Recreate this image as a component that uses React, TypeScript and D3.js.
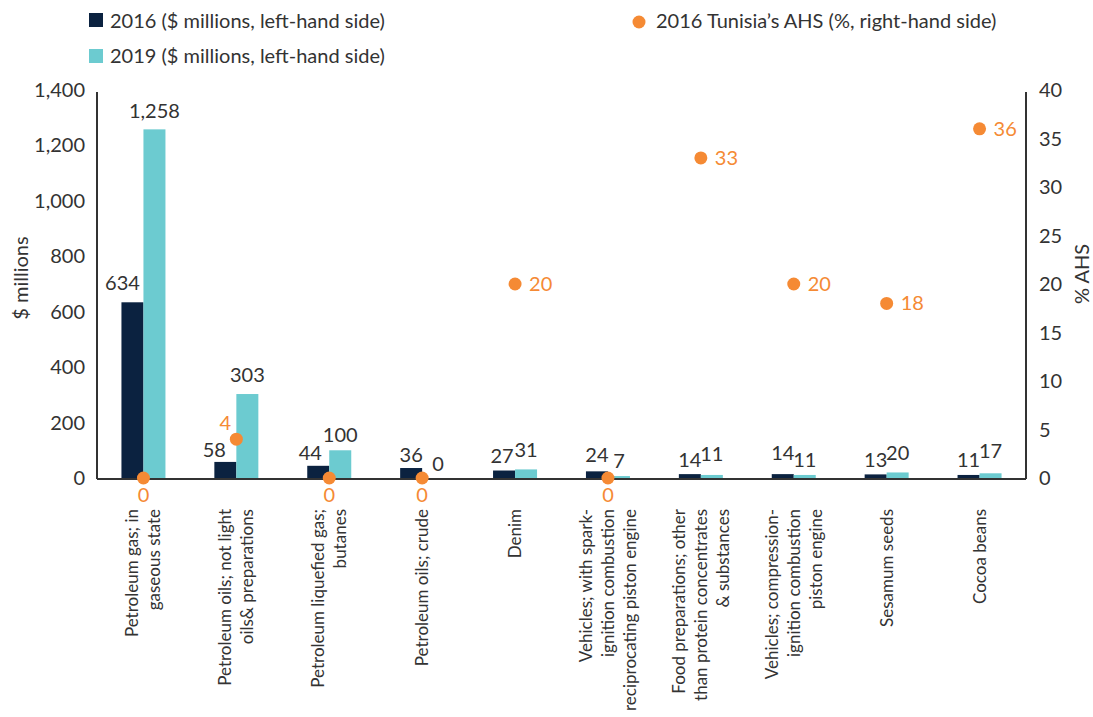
import React from 'react';
import * as d3 from 'd3';

// categories, each split into the lines of its rotated label
const categories = [
  ['Petroleum gas; in', 'gaseous state'],
  ['Petroleum oils; not light', 'oils& preparations'],
  ['Petroleum liquefied gas;', 'butanes'],
  ['Petroleum oils; crude'],
  ['Denim'],
  ['Vehicles; with spark-', 'ignition combustion', 'reciprocating piston engine'],
  ['Food preparations; other', 'than protein concentrates', '& substances'],
  ['Vehicles; compression-', 'ignition combustion', 'piston engine'],
  ['Sesamum seeds'],
  ['Cocoa beans'],
];

const values2016 = [634, 58, 44, 36, 27, 24, 14, 14, 13, 11];
const values2019 = [1258, 303, 100, 0, 31, 7, 11, 11, 20, 17];
const ahs2016 = [0, 4, 0, 0, 20, 0, 33, 20, 18, 36];

const leftTicks = [0, 200, 400, 600, 800, 1000, 1200, 1400];
const rightTicks = [0, 5, 10, 15, 20, 25, 30, 35, 40];

// hand nudges for the value labels, as placed in the original
const nudgeX2016 = [-10, -11, -8, 0, -2, 0, 0, 0, 0, 0];
const nudgeX2019 = [0, 0, 0, 5, 0, 0, 0, 0, 0, 0];
const nudgeY2016 = [-4, 3, 2, 2, 0, -1, 1, -6, 1, 0];
const nudgeY2019 = [-3, -4, 0, 1, -4, 0, -6, 0, -4, -7];
const dotLabelPos = ['below', 'above', 'below', 'below', 'right', 'below', 'right', 'right', 'right', 'right'];

const navy = '#0b2240';
const teal = '#6ccbd0';
const orange = '#f58a34';
const textCol = '#333333';
const font = 'Lato, "Open Sans", sans-serif';
const fs = 20;

export default function App() {
  const w = 1093, h = 717;
  const left = 97, right = 1026, top = 90, bottom = 478;

  const x = d3.scaleBand<number>()
    .domain(d3.range(categories.length))
    .range([left, right]);

  const yL = d3.scaleLinear().domain([0, 1400]).range([bottom, top]);
  const yR = d3.scaleLinear().domain([0, 40]).range([bottom, top]);

  const barW = 22;
  const cx = (i: number) => (x(i) as number) + x.bandwidth() / 2;

  return (
    <svg width={w} height={h} style={{ display: 'block', position: 'absolute', left: 0, top: 0 }}
      fontFamily={font}>
      {/* legend */}
      <rect x={89} y={13} width={14} height={14} fill={navy} />
      <text x={110} y={28} fontSize={fs} fill={textCol}>2016 ($ millions, left-hand side)</text>
      <rect x={89} y={49} width={14} height={14} fill={teal} />
      <text x={110} y={63} fontSize={fs} fill={textCol}>2019 ($ millions, left-hand side)</text>
      <circle cx={639} cy={22} r={6.5} fill={orange} />
      <text x={656} y={28} fontSize={fs} fill={textCol}>2016 Tunisia’s AHS (%, right-hand side)</text>

      {/* left axis */}
      {leftTicks.map(t => (
        <text key={'l' + t} x={85} y={yL(t)} dy="0.35em" textAnchor="end" fontSize={fs} fill={textCol}>
          {d3.format(',')(t)}
        </text>
      ))}
      <text transform={`translate(21,${(top + bottom) / 2 - 6}) rotate(-90)`} textAnchor="middle"
        dy="0.35em" fontSize={fs} fill={textCol}>$ millions</text>

      {/* right axis */}
      {rightTicks.map(t => (
        <text key={'r' + t} x={1039} y={yR(t)} dy="0.35em" textAnchor="start" fontSize={fs} fill={textCol}>
          {t}
        </text>
      ))}
      <text transform={`translate(1082,${(top + bottom) / 2 - 10}) rotate(-90)`} textAnchor="middle"
        dy="0.35em" fontSize={fs} fill={textCol}>% AHS</text>

      {/* bars */}
      {values2016.map((v, i) => (
        <rect key={'a' + i} x={cx(i) - barW} y={yL(v)} width={barW} height={bottom - yL(v)} fill={navy} />
      ))}
      {values2019.map((v, i) => (
        <rect key={'b' + i} x={cx(i)} y={yL(v)} width={barW} height={bottom - yL(v)} fill={teal} />
      ))}
      {values2016.map((v, i) => (
        <text key={'ta' + i} x={cx(i) - barW / 2 + nudgeX2016[i]} y={yL(v) - 8 + nudgeY2016[i]}
          textAnchor="middle" fontSize={fs} fill={textCol}>{v}</text>
      ))}
      {values2019.map((v, i) => (
        <text key={'tb' + i} x={cx(i) + barW / 2 + nudgeX2019[i]} y={yL(v) - 8 + nudgeY2019[i]}
          textAnchor="middle" fontSize={fs} fill={textCol}>{d3.format(',')(v)}</text>
      ))}

      {/* axis lines */}
      <line x1={left} x2={left} y1={92} y2={bottom + 1} stroke="#333" strokeWidth={2} />
      <line x1={right} x2={right} y1={92} y2={bottom + 1} stroke="#333" strokeWidth={2} />
      <line x1={left} x2={right} y1={bottom + 1} y2={bottom + 1} stroke="#333" strokeWidth={2} />

      {/* AHS dots */}
      {ahs2016.map((v, i) => {
        const px = cx(i), py = yR(v);
        const pos = dotLabelPos[i];
        let lx = px, ly = py, anchor = 'middle';
        if (pos === 'right') { lx = px + 14; ly = py + 7; anchor = 'start'; }
        else if (pos === 'below') { ly = py + 24; }
        else { lx = px - 11; ly = py - 9; }
        return (
          <g key={'d' + i}>
            <circle cx={px} cy={py} r={6.5} fill={orange} />
            <text x={lx} y={ly} textAnchor={anchor} fontSize={fs} fill={orange}>{v}</text>
          </g>
        );
      })}

      {/* category labels */}
      {categories.map((lines, i) => (
        <g key={'c' + i}>
          {lines.map((ln, j) => {
            const lx = cx(i) + (j - (lines.length - 1) / 2) * 22 + 6;
            return (
              <text key={j} transform={`translate(${lx},509) rotate(-90)`} textAnchor="end"
                fontSize={17} fill={textCol}>{ln}</text>
            );
          })}
        </g>
      ))}
    </svg>
  );
}
